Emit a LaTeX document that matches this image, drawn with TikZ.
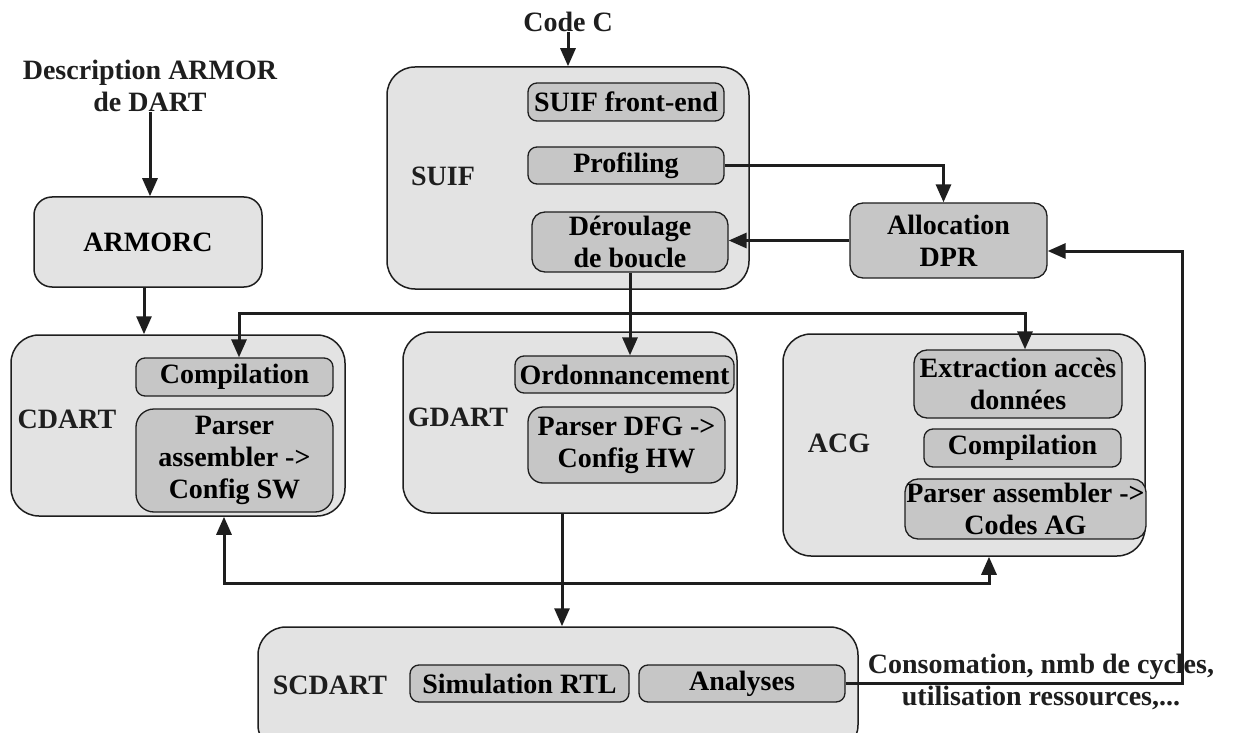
\documentclass[tikz,border=0pt]{standalone}
\usepackage{fontspec}
\setmainfont{Liberation Serif}
\usetikzlibrary{arrows.meta}
\definecolor{outerfill}{HTML}{E3E3E3}
\definecolor{innerfill}{HTML}{C6C6C6}
\definecolor{ink}{HTML}{1E1E1E}
\begin{document}
\begin{tikzpicture}[x=1pt,y=-1pt,
  font=\fontsize{28}{32}\selectfont\bfseries,
  outerbox/.style={draw=ink, line width=1.5pt, fill=outerfill, rounded corners=28pt, inner sep=0pt},
  smallbox/.style={draw=ink, line width=1.5pt, fill=outerfill, rounded corners=18pt, inner sep=0pt, align=center},
  innerbox/.style={draw=ink, line width=1.3pt, fill=innerfill, rounded corners=9pt, inner sep=0pt, align=center},
  lbl/.style={inner sep=0pt, align=center, text=ink},
  conn/.style={line width=3pt, draw=ink},
  arr/.style={conn, -{Triangle[length=18pt,width=15pt]}},
  darr/.style={conn, {Triangle[length=18pt,width=15pt]}-{Triangle[length=18pt,width=15pt]}}
]
\useasboundingbox (0,0) rectangle (1235,733);

% ---- SUIF ----
\node[outerbox, minimum width=362pt, minimum height=222pt] (suif) at (568,178) {};
\node[lbl] (suiflbl) at (443,176) {SUIF};
\node[innerbox, minimum width=196pt, minimum height=38pt] (front) at (626,102) {SUIF front-end};
\node[innerbox, minimum width=196pt, minimum height=37pt] (prof) at (626,165.5) {Profiling};
\node[innerbox, minimum width=196pt, minimum height=60pt, rounded corners=13pt] (deroul) at (630,242) {Déroulage\\de boucle};
\node[lbl] (codec) at (568,22) {Code C};

% ---- ARMORC ----
\node[lbl] (desc) at (150,86) {Description ARMOR\\de DART};
\node[smallbox, minimum width=228pt, minimum height=90pt] (armorc) at (148,242) {ARMORC};

% ---- Allocation ----
\node[innerbox, minimum width=197pt, minimum height=75pt, rounded corners=13pt] (alloc) at (948.5,240.5) {Allocation\\DPR};

% ---- CDART ----
\node[outerbox, minimum width=334pt, minimum height=181pt] (cdart) at (178,425.5) {};
\node[lbl] (cdartlbl) at (67,419) {CDART};
\node[innerbox, minimum width=197pt, minimum height=38pt] (comp1) at (234.5,377) {Compilation};
\node[innerbox, minimum width=197pt, minimum height=103pt, rounded corners=18pt] (pars1) at (234.5,460.5) {Parser\\assembler ->\\Config SW};

% ---- GDART ----
\node[outerbox, minimum width=334pt, minimum height=181pt] (gdart) at (570,422.5) {};
\node[lbl] (gdartlbl) at (458,417) {GDART};
\node[innerbox, minimum width=219pt, minimum height=37pt] (ordo) at (624.5,374.5) {Ordonnancement};
\node[innerbox, minimum width=197pt, minimum height=76pt, rounded corners=15pt] (pdfg) at (626.5,445) {Parser DFG ->\\Config HW};

% ---- ACG ----
\node[outerbox, minimum width=362pt, minimum height=222pt] (acg) at (964,445) {};
\node[lbl] (acglbl) at (839,443) {ACG};
\node[innerbox, minimum width=208pt, minimum height=68pt, rounded corners=13pt] (extr) at (1018,384) {Extraction accès\\données};
\node[innerbox, minimum width=197pt, minimum height=38pt] (comp2) at (1022.5,448) {Compilation};
\node[innerbox, minimum width=241pt, minimum height=60pt, rounded corners=13pt] (pag) at (1025.5,509) {Parser assembler ->\\Codes AG};

% ---- SCDART ----
\node[outerbox, minimum width=600pt, minimum height=126pt] (scdart) at (558,690) {};
\node[lbl] (scdartlbl) at (330,685) {SCDART};
\node[innerbox, minimum width=219pt, minimum height=37pt] (simrtl) at (519.5,683.5) {Simulation RTL};
\node[innerbox, minimum width=206pt, minimum height=37pt] (anal) at (742,683.5) {Analyses};
\node[lbl] (conso) at (1041,682) {Consomation, nmb de cycles,\\utilisation ressources,...};

% ---- connectors ----
\coordinate (j1) at (630,313);
\coordinate (b1) at (224,583);
\coordinate (b2) at (989,583);
\coordinate (g1) at (562,583);
\coordinate (fb) at (1182,251);

\draw[arr] (codec.south) -- (suif.north);
\draw[arr] (desc.south) -- (desc.south |- armorc.north);
\draw[arr] ([xshift=-4pt]armorc.south) -- ([xshift=-4pt]armorc.south |- cdart.north);
\draw[arr] (prof.east) -| ([xshift=-5pt]alloc.north);
\draw[arr] (alloc.west) -- (alloc.west -| deroul.east);
\draw[arr] (deroul.south) -- (deroul.south |- ordo.north);
\draw[arr] (j1) -| ([xshift=4.5pt]comp1.north);
\draw[arr] (j1) -| ([xshift=7pt]extr.north);
\draw[arr] (g1 |- gdart.south) -- (g1 |- scdart.north);
\draw[darr] (b1 |- cdart.south) -- (b1) -- (b2) -- (b2 |- acg.south);
\draw[arr] (anal.east) -| (fb) -- (fb -| alloc.east);
\end{tikzpicture}
\end{document}
